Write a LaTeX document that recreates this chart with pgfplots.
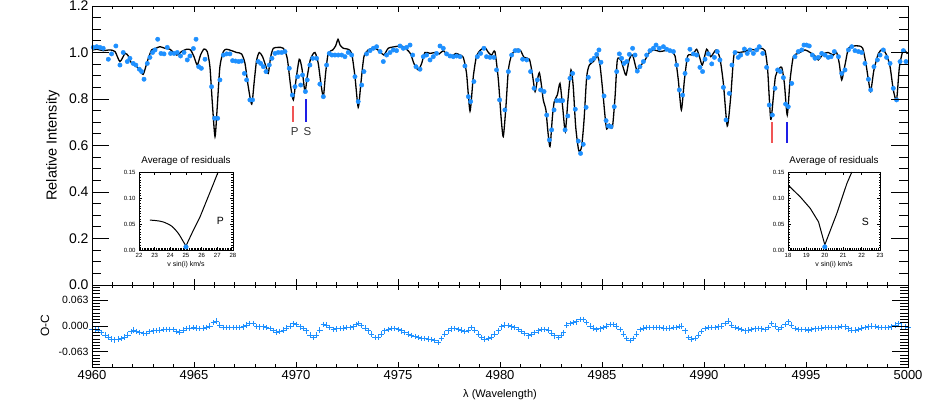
\documentclass[border=0pt]{standalone}
\usepackage{fontspec}
\setmainfont{Liberation Sans}
\usepackage{pgfplots}
\pgfplotsset{compat=1.18}
\definecolor{dotblue}{RGB}{30,144,255}
\definecolor{mkred}{RGB}{240,85,85}
\definecolor{mkblue}{RGB}{30,30,230}
\newcommand\fs[1]{\fontsize{#1}{#1}\selectfont}

\pgfplotsset{idl/.style={scale only axis, anchor=south west,
    axis line style={line width=0.9pt}, tick style={black, line width=0.8pt},
    tick align=inside, /pgf/number format/assume math mode=true}}

\begin{document}
\begin{tikzpicture}
\useasboundingbox (0,0) rectangle (926pt,409pt);

% main spectrum: x ticks + data
\begin{axis}[idl, at={(92pt,124pt)}, width=816pt, height=279pt,
    xmin=4960, xmax=5000, ymin=0, ymax=1.2,
    xtick={4960,4965,...,5000}, minor x tick num=4, xticklabels={},
    ytick=\empty, major tick length=6pt, minor tick length=3pt]
  \addplot[black, line width=1.3pt, smooth, tension=0.4] coordinates {
(4960.00,1.010)(4960.23,1.014)(4960.55,1.008)(4960.88,1.011)(4961.13,1.004)(4961.37,0.961)(4961.62,0.996)(4961.78,0.985)(4961.94,0.953)(4962.11,0.946)(4962.32,0.928)(4962.51,0.906)(4962.71,0.961)(4962.92,1.011)(4963.14,1.018)(4963.33,1.025)(4963.58,1.018)(4963.82,1.014)(4964.15,0.989)(4964.39,1.004)(4964.64,1.014)(4964.83,1.011)(4965.00,0.982)(4965.16,0.946)(4965.32,0.989)(4965.49,1.015)(4965.65,1.004)(4965.78,0.939)(4965.90,0.781)(4966.03,0.638)(4966.14,0.767)(4966.27,0.939)(4966.44,1.004)(4966.60,1.014)(4966.84,1.008)(4967.09,1.000)(4967.33,0.994)(4967.50,0.953)(4967.66,0.853)(4967.83,0.778)(4967.96,0.882)(4968.07,0.968)(4968.20,1.000)(4968.36,0.982)(4968.53,0.939)(4968.64,0.910)(4968.76,0.982)(4968.89,1.018)(4969.13,1.022)(4969.38,1.018)(4969.57,0.975)(4969.74,0.853)(4969.87,0.796)(4970.00,0.882)(4970.16,0.971)(4970.29,0.932)(4970.44,0.832)(4970.55,0.896)(4970.72,0.975)(4970.93,1.000)(4971.09,0.953)(4971.22,0.867)(4971.34,0.810)(4971.45,0.910)(4971.58,0.996)(4971.80,1.011)(4971.94,1.028)(4972.06,1.057)(4972.16,1.032)(4972.32,1.018)(4972.56,1.014)(4972.73,0.996)(4972.89,0.896)(4973.05,0.764)(4973.18,0.867)(4973.33,0.982)(4973.54,1.011)(4973.87,1.018)(4974.12,1.004)(4974.31,0.989)(4974.52,1.018)(4974.85,1.025)(4975.18,1.028)(4975.42,1.014)(4975.62,0.994)(4975.78,0.953)(4975.99,0.925)(4976.16,0.953)(4976.32,1.000)(4976.57,0.996)(4976.81,1.000)(4977.02,0.994)(4977.22,1.008)(4977.42,0.989)(4977.63,0.985)(4977.84,0.996)(4978.04,0.989)(4978.20,0.979)(4978.36,0.910)(4978.53,0.748)(4978.69,0.896)(4978.85,0.985)(4979.05,1.011)(4979.26,1.022)(4979.43,1.000)(4979.59,0.989)(4979.75,1.004)(4979.92,0.882)(4980.05,0.724)(4980.16,0.638)(4980.29,0.767)(4980.41,0.925)(4980.57,0.989)(4980.82,1.014)(4981.01,1.008)(4981.18,0.979)(4981.44,0.971)(4981.58,0.910)(4981.72,0.832)(4981.83,0.882)(4981.93,0.913)(4982.03,0.860)(4982.12,0.796)(4982.25,0.753)(4982.34,0.667)(4982.45,0.595)(4982.57,0.724)(4982.66,0.789)(4982.81,0.817)(4982.94,0.867)(4983.07,0.767)(4983.20,0.660)(4983.33,0.796)(4983.48,0.925)(4983.59,0.853)(4983.71,0.681)(4983.86,0.578)(4984.00,0.595)(4984.12,0.710)(4984.25,0.896)(4984.38,0.946)(4984.58,0.961)(4984.77,0.985)(4984.90,0.946)(4985.03,0.839)(4985.15,0.724)(4985.23,0.671)(4985.36,0.691)(4985.51,0.678)(4985.64,0.810)(4985.75,0.968)(4985.92,0.968)(4986.05,0.932)(4986.18,0.903)(4986.34,0.971)(4986.50,0.989)(4986.70,0.925)(4986.86,0.939)(4987.11,0.968)(4987.32,1.000)(4987.55,1.011)(4987.84,1.004)(4988.09,1.008)(4988.37,1.008)(4988.58,0.985)(4988.74,0.882)(4988.89,0.753)(4989.04,0.882)(4989.20,0.985)(4989.44,0.989)(4989.64,1.014)(4989.80,0.975)(4989.92,0.946)(4990.13,1.014)(4990.33,0.982)(4990.59,1.011)(4990.78,0.975)(4990.95,0.867)(4991.14,0.684)(4991.31,0.810)(4991.47,0.989)(4991.73,1.000)(4992.01,1.004)(4992.25,1.014)(4992.50,1.011)(4992.75,1.018)(4992.99,1.008)(4993.12,0.925)(4993.27,0.713)(4993.40,0.810)(4993.50,0.896)(4993.64,0.925)(4993.81,0.936)(4993.94,0.867)(4994.08,0.731)(4994.22,0.882)(4994.38,0.982)(4994.62,0.996)(4994.95,1.011)(4995.20,1.000)(4995.44,0.985)(4995.60,0.968)(4995.85,0.994)(4996.09,1.000)(4996.34,0.989)(4996.50,1.000)(4996.63,0.953)(4996.75,0.882)(4996.91,0.946)(4997.08,1.018)(4997.32,1.028)(4997.61,1.028)(4997.78,1.018)(4997.92,0.961)(4998.06,0.882)(4998.17,0.832)(4998.33,0.925)(4998.55,0.996)(4998.76,1.014)(4998.95,0.989)(4999.12,0.939)(4999.28,0.839)(4999.44,0.796)(4999.58,0.939)(4999.77,1.011)(4999.97,0.994)
  };
  \addplot[only marks, mark=*, mark size=2.2pt, color=dotblue] coordinates {
(4960.06,1.022)(4960.23,1.025)(4960.39,1.022)(4960.55,1.018)(4960.80,0.971)(4960.96,0.994)(4961.17,1.028)(4961.37,0.946)(4961.53,1.000)(4961.73,0.961)(4961.86,0.975)(4962.02,0.953)(4962.15,0.946)(4962.32,0.928)(4962.43,0.918)(4962.55,0.885)(4962.71,0.953)(4962.84,0.979)(4962.97,1.000)(4963.09,1.011)(4963.22,1.057)(4963.38,0.996)(4963.53,0.994)(4963.69,1.022)(4963.85,0.996)(4964.02,0.996)(4964.18,1.000)(4964.34,0.985)(4964.51,1.000)(4964.67,0.968)(4964.80,0.985)(4964.97,1.017)(4965.10,1.057)(4965.23,0.939)(4965.36,0.932)(4965.54,0.971)(4965.86,0.853)(4966.01,0.717)(4966.16,0.717)(4966.27,0.882)(4966.44,0.989)(4966.60,0.994)(4966.76,0.994)(4966.89,0.965)(4967.04,0.963)(4967.19,0.961)(4967.33,0.963)(4967.47,0.910)(4967.58,0.882)(4967.74,0.796)(4967.87,0.796)(4968.15,0.961)(4968.27,0.953)(4968.40,0.939)(4968.53,0.918)(4968.69,0.946)(4968.82,0.975)(4968.97,0.996)(4969.13,1.000)(4969.30,1.000)(4969.46,1.004)(4969.67,0.932)(4969.82,0.817)(4969.95,0.853)(4970.08,0.896)(4970.23,0.860)(4970.32,0.903)(4970.46,0.832)(4970.55,0.882)(4970.68,0.946)(4970.82,0.975)(4971.01,0.975)(4971.17,0.864)(4971.34,0.810)(4971.50,0.946)(4971.63,0.996)(4971.76,0.989)(4971.91,0.989)(4972.07,0.989)(4972.24,0.989)(4972.40,0.982)(4972.56,1.000)(4972.73,0.989)(4972.89,0.896)(4973.05,0.789)(4973.22,0.860)(4973.33,0.918)(4973.46,0.994)(4973.63,1.008)(4973.79,1.018)(4973.95,1.025)(4974.12,1.004)(4974.28,0.961)(4974.44,0.989)(4974.61,1.000)(4974.77,1.011)(4974.93,1.008)(4975.10,1.028)(4975.26,1.018)(4975.42,1.022)(4975.59,1.032)(4975.72,0.989)(4975.88,0.939)(4976.08,0.928)(4976.24,0.982)(4976.40,0.989)(4976.57,0.968)(4976.73,0.982)(4976.89,0.996)(4977.06,1.028)(4977.22,1.018)(4977.38,0.994)(4977.55,0.985)(4977.71,0.982)(4977.87,0.985)(4978.04,0.982)(4978.28,0.942)(4978.45,0.810)(4978.56,0.789)(4978.72,0.875)(4978.89,0.982)(4979.05,0.996)(4979.21,1.018)(4979.34,0.982)(4979.51,0.979)(4979.70,0.979)(4979.83,0.925)(4979.98,0.796)(4980.24,0.753)(4980.41,0.918)(4980.57,0.989)(4980.74,1.008)(4980.90,1.008)(4981.11,0.971)(4981.31,0.968)(4981.50,0.918)(4981.67,0.846)(4981.83,0.882)(4981.99,0.839)(4982.16,0.832)(4982.29,0.731)(4982.42,0.624)(4982.53,0.667)(4982.65,0.753)(4982.78,0.793)(4982.94,0.793)(4983.07,0.793)(4983.19,0.667)(4983.32,0.727)(4983.43,0.889)(4983.56,0.910)(4983.69,0.756)(4983.84,0.619)(4983.95,0.566)(4984.08,0.605)(4984.22,0.764)(4984.33,0.893)(4984.46,0.965)(4984.61,0.975)(4984.74,0.992)(4984.85,1.011)(4984.95,0.958)(4985.10,0.813)(4985.20,0.707)(4985.31,0.684)(4985.44,0.681)(4985.60,0.767)(4985.72,0.918)(4985.85,0.994)(4985.96,0.975)(4986.08,0.953)(4986.21,0.961)(4986.34,0.992)(4986.50,1.018)(4986.62,0.989)(4986.73,0.920)(4986.86,0.939)(4987.03,0.961)(4987.19,0.989)(4987.35,1.008)(4987.52,1.018)(4987.65,1.032)(4987.81,1.018)(4988.01,1.025)(4988.17,1.014)(4988.33,1.008)(4988.50,1.004)(4988.66,0.946)(4988.79,0.839)(4988.95,0.817)(4989.07,0.910)(4989.18,0.968)(4989.31,1.014)(4989.48,0.994)(4989.64,0.989)(4989.80,0.936)(4989.93,0.918)(4990.05,0.971)(4990.21,0.994)(4990.38,0.951)(4990.51,0.979)(4990.65,1.004)(4990.78,0.968)(4990.95,0.850)(4991.08,0.710)(4991.24,0.824)(4991.37,0.946)(4991.52,1.000)(4991.68,0.979)(4991.80,0.989)(4991.98,1.015)(4992.12,0.996)(4992.25,1.011)(4992.42,0.996)(4992.58,1.011)(4992.71,1.025)(4992.88,0.996)(4993.07,0.936)(4993.20,0.774)(4993.35,0.731)(4993.48,0.846)(4993.61,0.925)(4993.74,0.918)(4993.89,0.892)(4994.00,0.778)(4994.13,0.767)(4994.30,0.867)(4994.46,0.982)(4994.62,1.004)(4994.79,1.011)(4994.90,1.032)(4995.03,1.032)(4995.16,1.028)(4995.31,0.989)(4995.44,0.975)(4995.60,0.979)(4995.77,0.996)(4995.93,0.989)(4996.09,0.979)(4996.23,0.982)(4996.39,1.004)(4996.59,0.982)(4996.75,0.910)(4996.91,0.925)(4997.08,1.011)(4997.24,1.025)(4997.40,1.008)(4997.57,1.004)(4997.73,1.000)(4997.89,0.953)(4998.06,0.885)(4998.17,0.839)(4998.33,0.939)(4998.50,0.968)(4998.63,0.989)(4998.79,1.011)(4998.95,0.979)(4999.12,0.953)(4999.28,0.846)(4999.44,0.796)(4999.61,0.961)(4999.77,1.008)(4999.90,0.961)
  };
  % component markers
  \addplot[draw=mkblue, line width=1.7pt] coordinates {(4970.49,0.702) (4970.49,0.799)};
  \addplot[draw=mkred, line width=1.7pt] coordinates {(4969.86,0.702) (4969.86,0.772)};
  \addplot[draw=mkred, line width=1.7pt] coordinates {(4993.32,0.612) (4993.32,0.702)};
  \addplot[draw=mkblue, line width=1.7pt] coordinates {(4994.08,0.612) (4994.08,0.702)};
  \node[font=\fs{11.5}, text=black!80] at (axis cs:4969.94,0.662) {P};
  \node[font=\fs{11.5}, text=black!80] at (axis cs:4970.56,0.662) {S};
\end{axis}

% main spectrum: y ticks and label
\begin{axis}[idl, at={(92pt,124pt)}, width=816pt, height=279pt,
    xmin=4960, xmax=5000, ymin=0, ymax=1.2, xtick=\empty,
    ytick={0,0.2,...,1.2}, minor y tick num=3,
    major tick length=17pt, minor tick length=9pt,
    yticklabel style={font=\fs{14}, /pgf/number format/.cd, fixed, fixed zerofill, precision=1},
    ylabel={Relative Intensity},
    ylabel style={font=\fs{14.5}, at={(axis description cs:-0.0478,0.5)}, anchor=center}]
\end{axis}

% residual panel: x ticks + data
\begin{axis}[idl, at={(92pt,42pt)}, width=816pt, height=82pt,
    xmin=4960, xmax=5000, ymin=-0.1, ymax=0.1,
    xtick={4960,4965,...,5000}, minor x tick num=4,
    xticklabel style={font=\fs{13}, /pgf/number format/.cd, set thousands separator={}},
    ytick=\empty, major tick length=5pt, minor tick length=3pt,
    xlabel={λ (Wavelength)},
    xlabel style={font=\fs{11}, at={(axis description cs:0.5,-0.341)}, anchor=center}]
  \addplot[only marks, mark=+, mark size=2.7pt, color=dotblue, mark options={line width=0.9pt}] coordinates {
(4960.00,-0.008)(4960.16,-0.008)(4960.32,-0.010)(4960.48,-0.016)(4960.64,-0.022)(4960.80,-0.027)(4960.96,-0.032)(4961.12,-0.034)(4961.28,-0.032)(4961.44,-0.031)(4961.60,-0.027)(4961.76,-0.022)(4961.92,-0.014)(4962.03,-0.010)(4962.20,-0.013)(4962.35,-0.016)(4962.52,-0.018)(4962.68,-0.018)(4962.84,-0.014)(4963.01,-0.012)(4963.17,-0.011)(4963.33,-0.010)(4963.50,-0.009)(4963.66,-0.008)(4963.82,-0.008)(4963.99,-0.009)(4964.15,-0.013)(4964.31,-0.015)(4964.47,-0.010)(4964.64,-0.006)(4964.80,-0.005)(4964.97,-0.004)(4965.13,-0.005)(4965.29,-0.006)(4965.45,-0.005)(4965.62,-0.004)(4965.78,0.000)(4965.95,0.008)(4966.11,0.012)(4966.27,0.002)(4966.43,-0.003)(4966.60,-0.004)(4966.76,-0.004)(4966.93,-0.004)(4967.09,-0.004)(4967.25,-0.004)(4967.42,-0.002)(4967.58,0.002)(4967.74,0.006)(4967.90,0.006)(4968.07,-0.001)(4968.23,-0.002)(4968.40,-0.002)(4968.56,-0.004)(4968.73,-0.006)(4968.89,-0.011)(4969.05,-0.015)(4969.21,-0.013)(4969.38,-0.010)(4969.54,-0.005)(4969.71,0.000)(4969.87,0.005)(4970.03,0.004)(4970.20,-0.002)(4970.36,-0.006)(4970.52,-0.012)(4970.69,-0.022)(4970.85,-0.028)(4971.01,-0.022)(4971.17,-0.010)(4971.34,0.004)(4971.50,0.002)(4971.66,-0.004)(4971.83,-0.008)(4971.99,-0.007)(4972.16,-0.006)(4972.32,-0.005)(4972.48,-0.004)(4972.65,-0.003)(4972.81,-0.002)(4972.97,0.003)(4973.05,0.006)(4973.21,0.001)(4973.38,-0.005)(4973.54,-0.012)(4973.70,-0.020)(4973.87,-0.028)(4974.03,-0.027)(4974.20,-0.020)(4974.36,-0.012)(4974.52,-0.008)(4974.69,-0.006)(4974.85,-0.006)(4975.02,-0.008)(4975.18,-0.012)(4975.34,-0.016)(4975.51,-0.020)(4975.67,-0.023)(4975.84,-0.026)(4976.00,-0.028)(4976.16,-0.030)(4976.32,-0.031)(4976.49,-0.032)(4976.65,-0.033)(4976.81,-0.036)(4976.97,-0.040)(4977.14,-0.031)(4977.30,-0.020)(4977.46,-0.012)(4977.63,-0.007)(4977.79,-0.006)(4977.96,-0.008)(4978.12,-0.010)(4978.28,-0.013)(4978.45,-0.010)(4978.61,-0.004)(4978.77,-0.010)(4978.94,-0.020)(4979.10,-0.028)(4979.26,-0.032)(4979.43,-0.030)(4979.59,-0.027)(4979.75,-0.020)(4979.92,-0.012)(4980.08,-0.002)(4980.24,0.002)(4980.41,0.001)(4980.57,-0.002)(4980.73,-0.004)(4980.90,-0.008)(4981.06,-0.013)(4981.22,-0.019)(4981.39,-0.024)(4981.55,-0.021)(4981.71,-0.016)(4981.88,-0.012)(4982.04,-0.009)(4982.20,-0.008)(4982.37,-0.010)(4982.53,-0.017)(4982.69,-0.024)(4982.86,-0.028)(4983.02,-0.022)(4983.10,-0.016)(4983.27,0.002)(4983.43,0.006)(4983.59,0.008)(4983.76,0.010)(4983.92,0.016)(4984.08,0.016)(4984.25,0.008)(4984.41,0.000)(4984.57,-0.005)(4984.74,-0.008)(4984.90,-0.007)(4985.06,-0.004)(4985.23,0.000)(4985.39,0.004)(4985.55,0.004)(4985.72,0.000)(4985.88,-0.008)(4986.04,-0.020)(4986.20,-0.030)(4986.37,-0.036)(4986.53,-0.030)(4986.69,-0.020)(4986.86,-0.008)(4987.02,-0.005)(4987.19,-0.004)(4987.35,-0.004)(4987.51,-0.004)(4987.68,-0.004)(4987.84,-0.004)(4988.00,-0.005)(4988.17,-0.006)(4988.33,-0.005)(4988.49,-0.004)(4988.66,-0.003)(4988.82,-0.001)(4988.90,0.000)(4989.07,-0.012)(4989.23,-0.028)(4989.39,-0.032)(4989.56,-0.030)(4989.72,-0.022)(4989.88,-0.013)(4990.05,-0.006)(4990.21,-0.004)(4990.37,-0.004)(4990.54,-0.004)(4990.70,-0.002)(4990.86,0.000)(4991.03,0.006)(4991.19,0.012)(4991.35,0.002)(4991.52,-0.004)(4991.68,-0.006)(4991.84,-0.009)(4992.01,-0.012)(4992.17,-0.010)(4992.33,-0.008)(4992.50,-0.007)(4992.66,-0.006)(4992.82,-0.007)(4992.99,-0.008)(4993.15,-0.004)(4993.32,0.006)(4993.48,0.000)(4993.64,-0.008)(4993.81,-0.004)(4993.97,0.004)(4994.13,0.010)(4994.29,0.002)(4994.46,-0.006)(4994.62,-0.008)(4994.78,-0.008)(4994.95,-0.009)(4995.11,-0.010)(4995.27,-0.008)(4995.44,-0.007)(4995.60,-0.006)(4995.76,-0.005)(4995.93,-0.004)(4996.09,-0.004)(4996.25,-0.004)(4996.42,-0.004)(4996.58,-0.003)(4996.74,-0.001)(4996.91,-0.002)(4997.07,-0.007)(4997.23,-0.010)(4997.40,-0.010)(4997.56,-0.008)(4997.72,-0.005)(4997.89,-0.003)(4998.05,-0.002)(4998.21,0.000)(4998.38,-0.001)(4998.54,-0.003)(4998.70,-0.004)(4998.87,-0.004)(4999.03,-0.004)(4999.19,-0.002)(4999.36,0.002)(4999.52,0.005)(4999.69,0.000)(4999.85,-0.002)(5000.00,-0.004)
  };
\end{axis}

% residual panel: y ticks and label
\begin{axis}[idl, at={(92pt,42pt)}, width=816pt, height=82pt,
    xmin=4960, xmax=5000, ymin=-0.1, ymax=0.1, xtick=\empty,
    ytick={-0.063,0,0.063}, yticklabels={-0.063,0.000,0.063},
    minor ytick={-0.0945,-0.086625,...,0.095},
    major tick length=16pt, minor tick length=8pt,
    yticklabel style={font=\fs{10.5}},
    ylabel={O-C},
    ylabel style={font=\fs{12}, at={(axis description cs:-0.0576,0.5)}, anchor=center}]
\end{axis}

% inset P
\begin{axis}[scale only axis, anchor=south west, at={(139pt,159pt)}, width=94pt, height=78pt,
    xmin=22, xmax=28, ymin=0, ymax=0.15,
    xtick={22,23,...,28}, ytick={0,0.05,0.1,0.15},
    minor x tick num=9, minor y tick num=9, tick align=inside,
    major tick length=3pt, minor tick length=1.5pt,
    axis line style={line width=0.5pt}, tick style={black, line width=0.4pt},
    /pgf/number format/assume math mode=true,
    ticklabel style={font=\fs{6}},
    yticklabel style={/pgf/number format/.cd, fixed, fixed zerofill, precision=2},
    xlabel={v sin(i) km/s}, xlabel style={font=\fs{7}, at={(axis description cs:0.5,-0.19)}, anchor=center},
    title={Average of residuals}, title style={font=\fs{9.8}, at={(axis description cs:0.5,1)}, anchor=south, inner sep=0.5pt}]
  \addplot[black, line width=1pt, smooth, tension=0.5] coordinates {
(22.69,0.0575)(23.10,0.0565)(23.54,0.054)(24.08,0.046)(24.51,0.032)(24.83,0.016)(25.00,0.008)
  };
  \addplot[black, line width=1pt] coordinates {
(25.00,0.008)(25.47,0.038)(25.90,0.064)(26.33,0.096)(26.76,0.128)(27.05,0.150)
  };
  \addplot[only marks, mark=*, mark size=2.3pt, color=dotblue] coordinates {(25.0,0.006)};
  \node[font=\fs{10.5}] at (axis cs:27.2,0.056) {P};
\end{axis}

% inset S
\begin{axis}[scale only axis, anchor=south west, at={(788pt,159pt)}, width=92pt, height=78pt,
    xmin=18, xmax=23, ymin=0, ymax=0.15,
    xtick={18,19,...,23}, ytick={0,0.05,0.1,0.15},
    minor x tick num=9, minor y tick num=9, tick align=inside,
    major tick length=3pt, minor tick length=1.5pt,
    axis line style={line width=0.5pt}, tick style={black, line width=0.4pt},
    /pgf/number format/assume math mode=true,
    ticklabel style={font=\fs{6}},
    yticklabel style={/pgf/number format/.cd, fixed, fixed zerofill, precision=2},
    xlabel={v sin(i) km/s}, xlabel style={font=\fs{7}, at={(axis description cs:0.5,-0.19)}, anchor=center},
    title={Average of residuals}, title style={font=\fs{9.8}, at={(axis description cs:0.5,1)}, anchor=south, inner sep=0.5pt}]
  \addplot[black, line width=1pt] coordinates {
(18.00,0.125)(18.67,0.102)(19.21,0.080)(19.66,0.054)(20.00,0.010)(20.65,0.070)(21.20,0.128)(21.47,0.150)
  };
  \addplot[only marks, mark=*, mark size=2.3pt, color=dotblue] coordinates {(20.0,0.006)};
  \node[font=\fs{10.5}] at (axis cs:22.2,0.054) {S};
\end{axis}
\end{tikzpicture}
\end{document}
